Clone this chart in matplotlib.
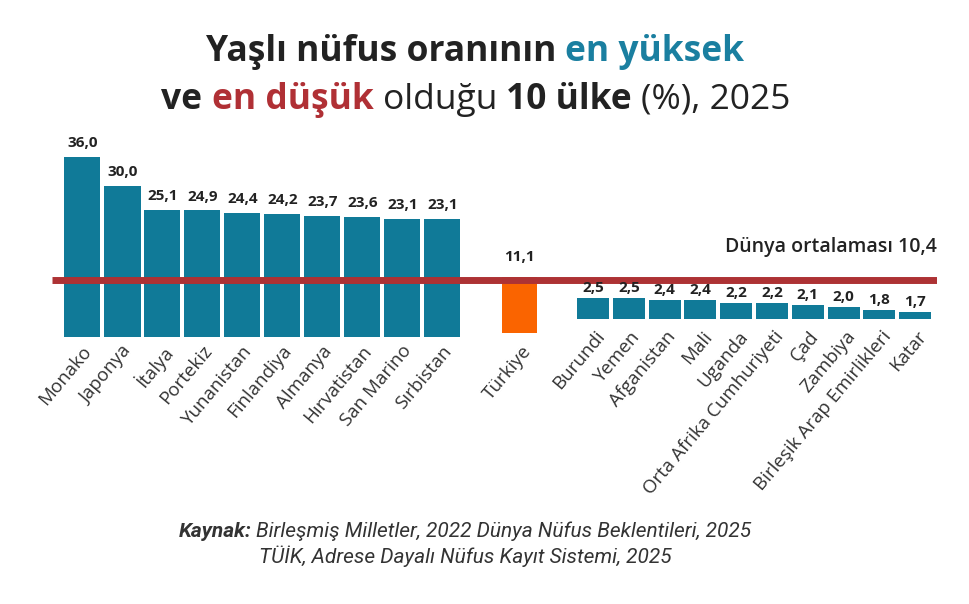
import matplotlib.pyplot as plt

# veriler
high_countries = ["Monako", "Japonya", "İtalya", "Portekiz", "Yunanistan",
                  "Finlandiya", "Almanya", "Hırvatistan", "San Marino", "Sırbistan"]
high_values = [36.0, 30.0, 25.1, 24.9, 24.4, 24.2, 23.7, 23.6, 23.1, 23.1]

low_countries = ["Burundi", "Yemen", "Afganistan", "Mali", "Uganda",
                 "Orta Afrika Cumhuriyeti", "Çad", "Zambiya",
                 "Birleşik Arap Emirlikleri", "Katar"]
low_values = [2.5, 2.5, 2.4, 2.4, 2.2, 2.2, 2.1, 2.0, 1.8, 1.7]

turkey_name = "Türkiye"
turkey_value = 11.1
world_avg = 10.4

TEAL = "#107a98"
RED = "#ad3234"
ORANGE = "#fa6400"
DARK = "#222222"
FONT = "Open Sans"

W, H = 970, 604


def px_axes(fig, x0, y0, x1, y1):
    ax = fig.add_axes([x0 / W, 1 - y1 / H, (x1 - x0) / W, (y1 - y0) / H])
    ax.set_axis_off()
    ax.patch.set_alpha(0)
    return ax


def fmt(v):
    return f"{v:.1f}".replace(".", ",")


def rich_line(fig, xc, y, parts, size, family):
    r = fig.canvas.get_renderer()
    items, gaps = [], []
    for s, style in parts:
        t = fig.text(0, 1 - y / H, s, va="baseline", ha="left", fontsize=size,
                     family=family, **style)
        a = fig.text(0, 0, "x x", fontsize=size, family=family, **style)
        b = fig.text(0, 0, "xx", fontsize=size, family=family, **style)
        gaps.append(a.get_window_extent(r).width - b.get_window_extent(r).width)
        a.remove()
        b.remove()
        items.append(t)
    widths = [t.get_window_extent(r).width for t in items]
    total = sum(widths) + sum(gaps[:-1])
    x = xc - total / 2
    for t, w, g in zip(items, widths, gaps):
        t.set_x(x / W)
        x += w + g


def main():
    plt.rcParams["font.family"] = [FONT, "DejaVu Sans"]
    fig = plt.figure(figsize=(9.7, 6.04), dpi=100)

    lab = dict(fontsize=13.5, color="#333333", rotation=50, rotation_mode="anchor",
               ha="right", va="top", annotation_clip=False)
    val = dict(fontsize=11, fontweight="bold", color=DARK, ha="center",
               va="bottom", annotation_clip=False)

    # sol grup + Türkiye
    s1 = 4.81          # px per unit
    y0 = -1.4
    ax1 = px_axes(fig, 52, 120, 937, 337)
    ax1.set_xlim(-30.5 / 40, (937 - 82.5) / 40)
    ax1.set_ylim(y0, y0 + 217 / s1)

    xs = list(range(len(high_values)))
    ax1.bar(xs, [v - y0 for v in high_values], bottom=y0, width=0.9,
            color=TEAL, zorder=2)
    xt = (519.5 - 82.5) / 40
    tb = y0 + 4 / s1
    ax1.bar([xt], [turkey_value - tb], bottom=tb, width=0.875,
            color=ORANGE, zorder=2)

    ax1.axhline(world_avg, color=RED, lw=5, solid_capstyle="butt", zorder=3)
    ax1.annotate(f"Dünya ortalaması {fmt(world_avg)}", (1, world_avg),
                 xycoords=("axes fraction", "data"), xytext=(0, 24),
                 textcoords="offset points", ha="right", va="center",
                 fontsize=14, fontweight="semibold", color=DARK)

    for x, v, name in zip(xs, high_values, high_countries):
        ax1.annotate(fmt(v), (x, v), xytext=(0, 5), textcoords="offset points", **val)
        ax1.annotate(name, (x, y0), xytext=(-0.7, -3.6), textcoords="offset points", **lab)

    ax1.annotate(fmt(turkey_value), (xt, turkey_value), xytext=(0, 9),
                 textcoords="offset points", **val)
    ax1.annotate(turkey_name, (xt, tb), xytext=(1.5, -6.5), textcoords="offset points", **lab)

    # sağ grup
    s2 = 17.5
    b2 = 1.3
    ax2 = px_axes(fig, 570, 230, 940, 319)
    ax2.set_xlim(-(593 - 570) / 35.8, (940 - 593) / 35.8)
    ax2.set_ylim(b2, b2 + 89 / s2)
    xs2 = list(range(len(low_values)))
    ax2.bar(xs2, [v - b2 for v in low_values], bottom=b2, width=0.894,
            color=TEAL, zorder=2)
    for x, v, name in zip(xs2, low_values, low_countries):
        ax2.annotate(fmt(v), (x, v), xytext=(0, 2), textcoords="offset points", **val)
        ax2.annotate(name, (x, b2), xytext=(1, -6), textcoords="offset points", **lab)

    # başlık
    fig.canvas.draw()
    rich_line(fig, 475, 61, [
        ("Yaşlı nüfus oranının", dict(fontweight="bold", color=DARK)),
        ("en yüksek", dict(fontweight="bold", color="#1a7fa0")),
    ], 25.5, [FONT, "DejaVu Sans"])
    rich_line(fig, 476, 109, [
        ("ve", dict(fontweight="bold", color=DARK)),
        ("en düşük", dict(fontweight="bold", color="#b03035")),
        ("olduğu", dict(fontweight="normal", color=DARK)),
        ("10 ülke", dict(fontweight="bold", color=DARK)),
        ("(%), 2025", dict(fontweight="normal", color=DARK)),
    ], 25.5, [FONT, "DejaVu Sans"])

    # kaynak
    rich_line(fig, 465, 537, [
        ("Kaynak:", dict(fontweight="bold", fontstyle="italic", color="#333333")),
        ("Birleşmiş Milletler, 2022 Dünya Nüfus Beklentileri, 2025",
         dict(fontstyle="italic", color="#333333")),
    ], 15, ["Roboto", "DejaVu Sans"])
    rich_line(fig, 465, 563, [
        ("TÜİK, Adrese Dayalı Nüfus Kayıt Sistemi, 2025",
         dict(fontstyle="italic", color="#333333")),
    ], 15, ["Roboto", "DejaVu Sans"])

    fig.savefig("out.png", dpi=100)


if __name__ == "__main__":
    main()
